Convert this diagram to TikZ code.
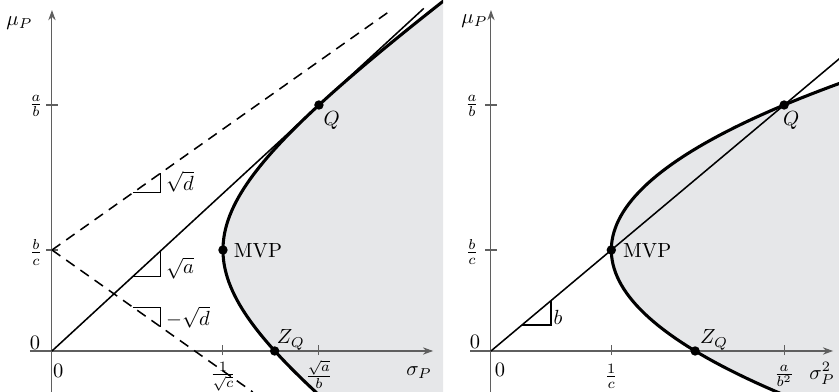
\documentclass[tikz,border=0pt]{standalone}
\usepackage{amsmath,amssymb}
\usepackage{xcolor}
\usepackage{tikz}
\usetikzlibrary{arrows.meta,positioning,calc}
\definecolor{regiongray}{RGB}{230,231,233}
\definecolor{axisgray}{RGB}{95,95,95}

\tikzset{
  axisline/.style={axisgray,line width=0.5pt,-{Stealth[length=5pt,width=3.6pt]}},
  tickmark/.style={axisgray,line width=0.5pt},
  frontier/.style={line width=1.5pt},
  rayline/.style={line width=0.75pt},
  asymline/.style={line width=0.75pt,dash pattern=on 5pt off 3.5pt},
  slopetri/.style={line width=0.5pt},
  dotmark/.style={circle,fill,inner sep=0pt,minimum size=4.6pt},
}

\begin{document}
\begin{tikzpicture}
  \useasboundingbox (-0.892,-0.7036) rectangle (13.505,6.023);
  % left panel: mean against standard deviation
  \begin{scope}
    \clip (-0.892,-0.7036) rectangle (6.71,6.023);
    \fill[regiongray] plot[domain=-0.75:6.1,samples=90,variable=\y] ({sqrt(8.608+2*(\y-1.733)^2)},\y)
      -- (7,6.1) -- (7,-0.75) -- cycle;
    \draw[axisline] (-0.378,0) -- (6.54,0);
    \draw[axisline] (0,-0.75) -- (0,5.85);
    \draw[tickmark] (-0.1,4.221) -- (0.1,4.221);
    \draw[tickmark] (-0.1,1.733) -- (0.1,1.733);
    \draw[tickmark] (2.934,-0.07) -- (2.934,0.1);
    \draw[tickmark] (4.581,-0.07) -- (4.581,0.1);
    \draw[asymline] (0,1.733) -- (5.85,5.87);
    \draw[asymline] (0,1.733) -- (3.446,-0.704);
    \draw[rayline] (0,0) -- (6.38,5.879);
    \draw[frontier] plot[domain=-0.75:6.1,samples=90,variable=\y] ({sqrt(8.608+2*(\y-1.733)^2)},\y);
    \draw[slopetri] (1.39,2.716) -- (1.87,2.716) -- (1.87,3.055);
    \draw[slopetri] (1.39,1.281) -- (1.87,1.281) -- (1.87,1.723);
    \draw[slopetri] (1.39,0.750) -- (1.87,0.750) -- (1.87,0.411);
  \end{scope}
  \node[dotmark] (lmvp) at (2.934,1.733) {};
  \node[dotmark] (lq) at (4.581,4.221) {};
  \node[dotmark] (lzq) at (3.821,0) {};
  \node (lmu) at (-0.558,5.63) {$\mu_P$};
  \node (lzeroy) at (-0.292,0.142) {$0$};
  \node (lzerox) at (0.109,-0.338) {$0$};
  \node (lab) at (-0.275,4.20) {$\frac{a}{b}$};
  \node (lbc) at (-0.275,1.69) {$\frac{b}{c}$};
  \node (lsc) at (2.934,-0.44) {$\frac{1}{\sqrt{c}}$};
  \node (lsab) at (4.581,-0.40) {$\frac{\sqrt{a}}{b}$};
  \node (lsigma) at (6.3,-0.37) {$\sigma_P$};
  \node (lqlab) at (4.80,3.96) {$Q$};
  \node (lmvplab) at (3.535,1.716) {MVP};
  \node (lzqlab) at (4.10,0.19) {$Z_Q$};
  \node (lsd) at (2.197,2.90) {$\sqrt{d}$};
  \node (lsa) at (2.197,1.42) {$\sqrt{a}$};
  \node (lmsd) at (2.334,0.58) {$-\sqrt{d}$};
  % right panel: mean against variance
  \begin{scope}[shift={(7.533,0)}]
    \begin{scope}
      \clip (-0.6,-0.7036) rectangle (5.972,6.023);
      \fill[regiongray] plot[domain=-0.75:4.75,samples=80,variable=\y] ({2.065+0.479*(\y-1.733)^2},\y)
        -- (6.5,-0.75) -- cycle;
      \draw[axisline] (-0.36,0) -- (5.87,0);
      \draw[axisline] (0,-0.75) -- (0,5.85);
      \draw[tickmark] (-0.1,4.221) -- (0.1,4.221);
      \draw[tickmark] (-0.1,1.733) -- (0.1,1.733);
      \draw[tickmark] (2.065,-0.07) -- (2.065,0.1);
      \draw[tickmark] (5.03,-0.07) -- (5.03,0.1);
      \draw[rayline] (0,0) -- (6.0,5.034);
      \draw[frontier] plot[domain=-0.75:4.75,samples=80,variable=\y] ({2.065+0.479*(\y-1.733)^2},\y);
      \draw[slopetri] (0.532,0.446) -- (1.03,0.446) -- (1.03,0.864);
    \end{scope}
    \node[dotmark] (rmvp) at (2.065,1.733) {};
    \node[dotmark] (rq) at (5.03,4.221) {};
    \node[dotmark] (rzq) at (3.503,0) {};
    \node (rmu) at (-0.283,5.66) {$\mu_P$};
    \node (rzeroy) at (-0.275,0.155) {$0$};
    \node (rzerox) at (0.154,-0.326) {$0$};
    \node (rab) at (-0.326,4.20) {$\frac{a}{b}$};
    \node (rbc) at (-0.326,1.70) {$\frac{b}{c}$};
    \node (rc) at (2.065,-0.43) {$\frac{1}{c}$};
    \node (rabb) at (5.03,-0.43) {$\frac{a}{b^2}$};
    \node (rsigma) at (5.68,-0.39) {$\sigma_P^2$};
    \node (rqlab) at (5.15,3.96) {$Q$};
    \node (rmvplab) at (2.68,1.716) {MVP};
    \node (rzqlab) at (3.83,0.19) {$Z_Q$};
    \node (rb) at (1.15,0.58) {$b$};
  \end{scope}
\end{tikzpicture}
\end{document}
